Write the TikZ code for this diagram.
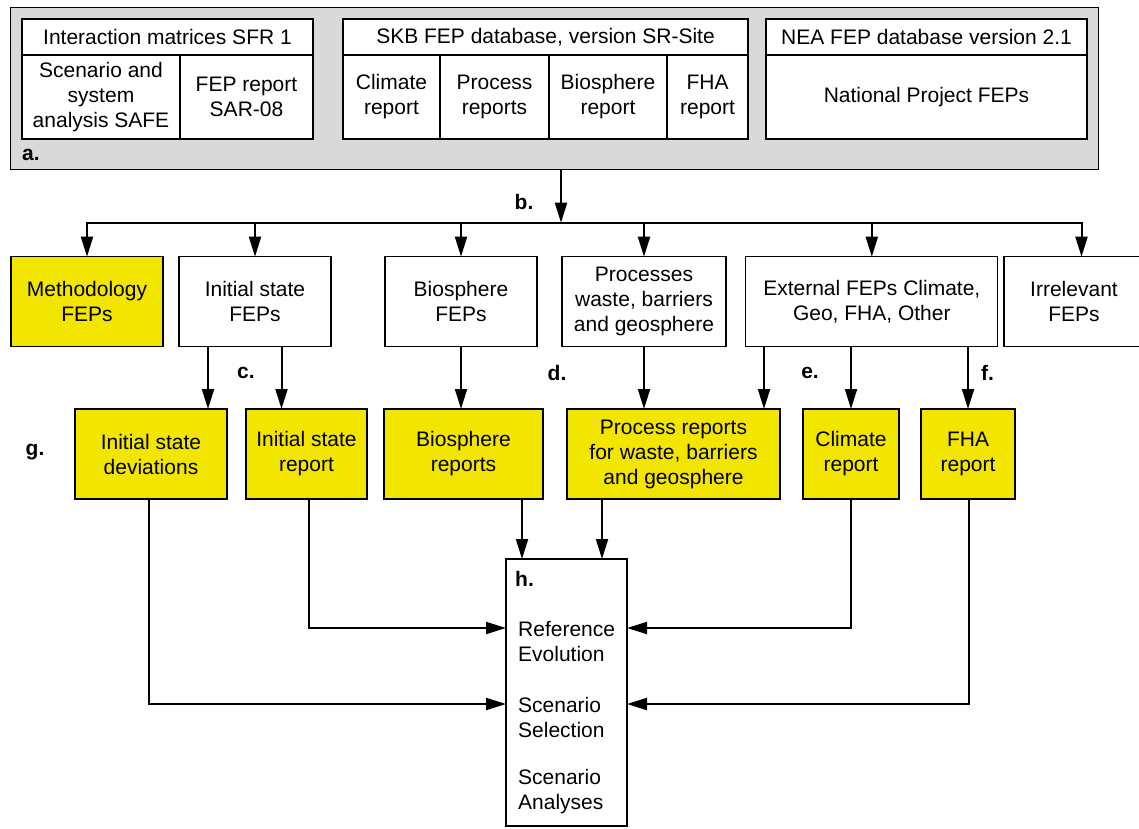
\documentclass[tikz,border=0pt]{standalone}
\usepackage{fontspec}
\setmainfont{Liberation Sans}
\usetikzlibrary{arrows.meta,positioning,calc}
\definecolor{fepyellow}{RGB}{242,230,0}
\definecolor{panelgray}{RGB}{217,217,217}

\begin{document}
\begin{tikzpicture}[x=1pt, y=-1pt,
	font=\fontsize{21}{25}\selectfont,
	panel/.style={draw, fill=panelgray, line width=1pt, inner sep=0pt, outer sep=0pt, minimum width=1088pt, minimum height=162pt},
	cell/.style 2 args={draw, fill=white, line width=1.1pt, inner sep=0pt, outer sep=0pt, align=center, minimum width=#1, minimum height=#2},
	fep/.style={draw, fill=white, line width=1.3pt, inner sep=0pt, outer sep=0pt, align=center, minimum width=#1, minimum height=90pt},
	report/.style={fep=#1, fill=fepyellow},
	result/.style={draw, fill=white, line width=1.3pt, inner sep=0pt, outer sep=0pt, minimum width=121pt, minimum height=267pt},
	item/.style={anchor=west, align=left, inner sep=0pt},
	tag/.style={font=\fontsize{21}{25}\selectfont\bfseries, inner sep=0pt},
	wire/.style={line width=2pt, line cap=rect},
	paths/.style={-{Triangle[length=20pt, width=12pt]}, line width=2pt}
	]
\useasboundingbox (0,0) rectangle (1139,828);

% source databases
\node [panel] at (554,88) (src) {};
\node [tag] at (31,155) (la) {a.};

\node [cell={291pt}{36pt}] at (167.5,37) (ima) {Interaction matrices SFR 1};
\node [cell={158pt}{84pt}, below right=0pt and 0pt of ima.south west] (safe) {Scenario and\\system\\analysis SAFE};
\node [cell={133pt}{84pt}, right=0pt of safe] (sar) {FEP report\\SAR-08};

\node [cell={405pt}{36pt}] at (545.5,37) (skb) {SKB FEP database, version SR-Site};
\node [cell={97pt}{84pt}, below right=0pt and 0pt of skb.south west] (skbc) {Climate\\report};
\node [cell={109pt}{84pt}, right=0pt of skbc] (skbp) {Process\\reports};
\node [cell={118pt}{84pt}, right=0pt of skbp] (skbb) {Biosphere\\report};
\node [cell={81pt}{84pt}, right=0pt of skbb] (skbf) {FHA\\report};

\node [cell={321pt}{36pt}] at (926.5,37) (nea) {NEA FEP database version 2.1};
\node [cell={321pt}{84pt}, below=0pt of nea] (nat) {National Project FEPs};

% fep groups
\node [fep=152pt, fill=fepyellow] at (87,301.7) (meth) {Methodology\\FEPs};
\node [fep=152pt] at (255,301.7) (initf) {Initial state\\FEPs};
\node [fep=152pt] at (461,301.7) (biof) {Biosphere\\FEPs};
\node [fep=164pt] at (644,301.7) (procf) {Processes\\waste, barriers\\and geosphere};
\node [fep=252pt] at (871.8,301.7) (extf) {External FEPs Climate,\\Geo, FHA, Other};
\node [fep=140pt] at (1074,301.7) (irrf) {Irrelevant\\FEPs};

% reports
\node [report=152pt] at (151,454) (dev) {Initial state\\deviations};
\node [report=121pt] at (306.5,454) (isr) {Initial state\\report};
\node [report=159pt] at (463.5,454) (bior) {Biosphere\\reports};
\node [report=213pt] at (673.5,454) (procr) {Process reports\\for waste, barriers\\and geosphere};
\node [report=96pt] at (851,454) (clim) {Climate\\report};
\node [report=94pt] at (968,454) (fha) {FHA\\report};

% safety assessment
\node [result] at (566.5,692.5) (hbox) {};
\node [tag, anchor=west] at (515,579) (lh) {h.};
\node [item] at (518,641.5) (evo) {Reference\\Evolution};
\node [item] at (518,717.5) (sel) {Scenario\\Selection};
\node [item] at (518,792) (ana) {Scenario\\Analyses};

% labels
\node [tag] at (524,201.7) (lb) {b.};
\node [tag] at (246,373) (lc) {c.};
\node [tag] at (557,373) (ld) {d.};
\node [tag] at (810,373) (le) {e.};
\node [tag] at (987.5,373) (lf) {f.};
\node [tag] at (35,452) (lg) {g.};

\coordinate (bus) at (561,222.7);
\coordinate (evoin) at (0,628);
\coordinate (selin) at (0,704);

% paths
\draw[paths] (src.south -| bus) -- (bus);
\draw[wire] (meth.north |- bus) -- ([xshift=7.5pt]irrf.north |- bus);
\foreach \n in {meth,initf,biof,procf,extf}
	\draw[paths] (\n.north |- bus) -- (\n.north);
\draw[paths] ([xshift=7.5pt]irrf.north |- bus) -- ([xshift=7.5pt]irrf.north);

\draw[paths] ([xshift=-47pt]initf.south) -- ([xshift=-47pt]initf.south |- dev.north);
\draw[paths] ([xshift=26.5pt]initf.south) -- ([xshift=26.5pt]initf.south |- isr.north);
\draw[paths] (biof.south) -- (biof.south |- bior.north);
\draw[paths] (procf.south) -- (procf.south |- procr.north);
\draw[paths] ([xshift=-107.8pt]extf.south) -- ([xshift=-107.8pt]extf.south |- procr.north);
\draw[paths] (clim.north |- extf.south) -- (clim.north);
\draw[paths] (fha.north |- extf.south) -- (fha.north);

\draw[paths] ([xshift=-2pt]dev.south) |- (hbox.west |- selin);
\draw[paths] ([xshift=2.5pt]isr.south) |- (hbox.west |- evoin);
\draw[paths] ([xshift=58.5pt]bior.south) -- ([xshift=58.5pt]bior.south |- hbox.north);
\draw[paths] ([xshift=-71.5pt]procr.south) -- ([xshift=-71.5pt]procr.south |- hbox.north);
\draw[paths] (clim.south) |- (hbox.east |- evoin);
\draw[paths] ([xshift=1pt]fha.south) |- (hbox.east |- selin);

\end{tikzpicture}
\end{document}
